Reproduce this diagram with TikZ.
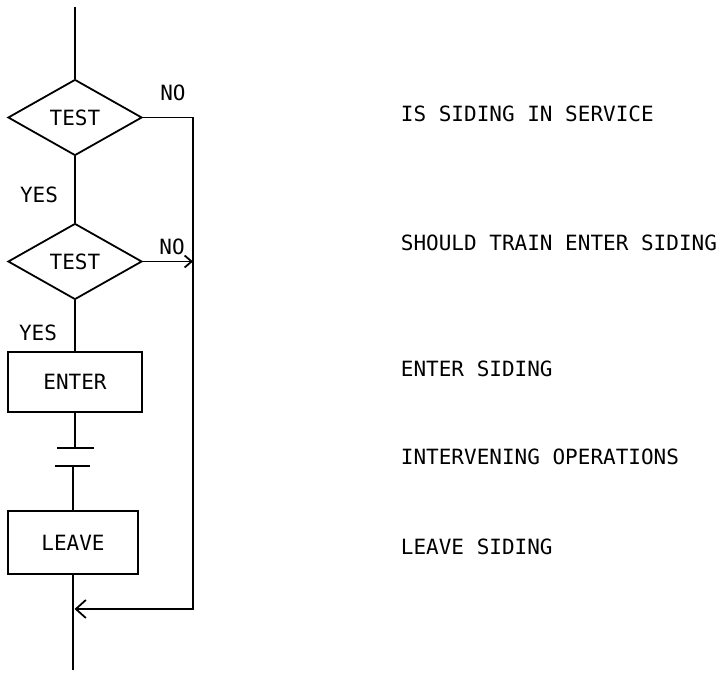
\documentclass[tikz,border=0pt]{standalone}
\usepackage{fontspec}
\setmainfont{DejaVu Sans Mono}
\usetikzlibrary{shapes.geometric,arrows.meta}
\begin{document}
\begin{tikzpicture}[x=1pt,y=-1pt,line width=1.8pt,
  lbl/.style={font=\fontsize{21}{24}\selectfont,inner sep=0pt},
  decision/.style={diamond,draw,aspect=2,minimum width=134pt,minimum height=76pt,inner sep=0pt,font=\fontsize{21}{24}\selectfont},
  stepbox/.style={rectangle,draw,inner sep=0pt,font=\fontsize{21}{24}\selectfont},
  bigbarb/.style={-{Straight Barb[length=10pt,width=18pt]}},
  smallbarb/.style={-{Straight Barb[length=7pt,width=12pt]}}]
\useasboundingbox (0,0) rectangle (724,676);
% flowchart nodes
\node[decision] (d1) at (75,117.5) {TEST};
\node[decision] (d2) at (75,261.5) {TEST};
\node[stepbox,minimum width=134pt,minimum height=60pt] (enter) at (75,382) {ENTER};
\node[stepbox,minimum width=130pt,minimum height=63pt] (leave) at (73,542.5) {LEAVE};
% helper coordinates
\coordinate (top) at (75,7);
\coordinate (bot) at (73,670);
\coordinate (c1) at (193,117.5);
\coordinate (c2) at (193,261.5);
\coordinate (c3) at (193,609);
\coordinate (m) at (74.5,609);
\coordinate (b1l) at (57,448);
\coordinate (b1r) at (94,448);
\coordinate (b2l) at (55,466);
\coordinate (b2r) at (90,466);
% connectors
\draw (top) -- (d1.north);
\draw (d1.south) -- (d2.north);
\draw (d2.south) -- (enter.north);
\draw (enter.south) -- (enter.south |- b1l);
\draw (b1l) -- (b1r);
\draw (b2l) -- (b2r);
\draw (leave.north |- b2l) -- (leave.north);
\draw (leave.south) -- (bot);
\draw[bigbarb] (d1.east) -- (c1) -- (c3) -- (m);
\draw[smallbarb] (d2.east) -- (c2);
% branch labels
\node[lbl] (no1) at (173,93) {NO};
\node[lbl] (no2) at (172,247) {NO};
\node[lbl] (yes1) at (39,195) {YES};
\node[lbl] (yes2) at (38,333) {YES};
% descriptions
\node[lbl,anchor=west] (t1) at (400,114) {IS SIDING IN SERVICE};
\node[lbl,anchor=west] (t2) at (400,243) {SHOULD TRAIN ENTER SIDING};
\node[lbl,anchor=west] (t3) at (400,369) {ENTER SIDING};
\node[lbl,anchor=west] (t4) at (400,457) {INTERVENING OPERATIONS};
\node[lbl,anchor=west] (t5) at (400,547) {LEAVE SIDING};
\end{tikzpicture}
\end{document}
